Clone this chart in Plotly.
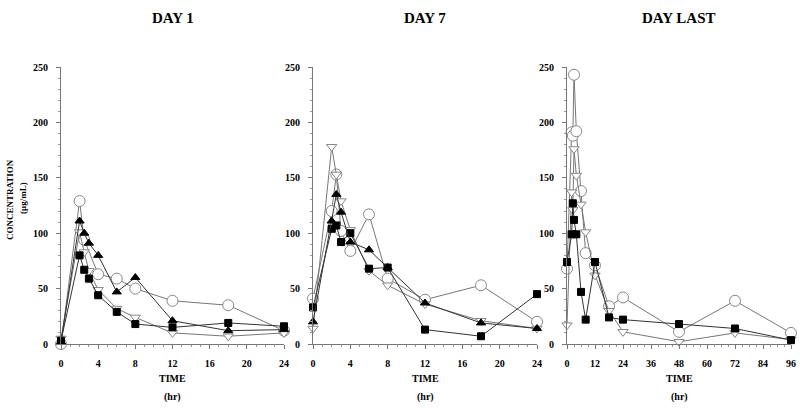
import plotly.graph_objects as go

# ---- data ----
t_day = [0, 2, 2.5, 3, 4, 6, 8, 12, 18, 24]
t_last = [0, 2, 2.5, 3, 4, 6, 8, 12, 18, 24, 48, 72, 96]

d1_circle = [0, 129, 94, None, 63, 59, 50, 39, 35, 12]
d1_tri = [2, 111, 100, 91, 80, 47, 60, 21, 12, 13]
d1_square = [3, 80, 67, 59, 44, 29, 18, 15, 19, 16]
d1_itri = [5, 101, 83, 66, 49, 32, 24, 10, 7, 10]

d7_circle = [41, 120, 153, 102, 84, 117, 59, 40, 53, 20]
d7_tri = [20, 111, 135, 119, 92, 85, 69, 37, 19, 14]
d7_square = [33, 104, 107, 92, 100, 68, 69, 13, 7, 45]
d7_itri = [14, 178, 153, 129, 103, 66, 53, 36, 21, 14]

dl_circle = [68, 191, 188, 243, 192, 138, 82, 71, 34, 42, 11, 39, 10]
dl_square = [74, 99, 127, 112, 99, 47, 22, 74, 24, 22, 18, 14, 3.5]
dl_itri = [17, 137, 121, 176, 152, 126, 101, 62, 30, 11, 2, 10, 4]

panel_titles = ["DAY 1", "DAY 7", "DAY LAST"]
x_ticks_day = [0, 4, 8, 12, 16, 20, 24]
x_ticks_last = [0, 12, 24, 36, 48, 60, 72, 84, 96]
y_ticks = [0, 50, 100, 150, 200, 250]

FONT = "Liberation Serif"
W, H = 800, 412


def px_x(p):
    return p / W


def px_y(p):
    return 1 - p / H


x_dom = [(px_x(61), px_x(284)), (px_x(313), px_x(537)), (px_x(567), px_x(791))]
y_dom = (px_y(344), px_y(67))

fig = go.Figure()

open_line = "#777777"
dark_line = "#333333"


def add(xs, ys, sym, panel, filled, size):
    ax = "" if panel == 1 else str(panel)
    fig.add_trace(go.Scatter(
        x=xs, y=ys, mode="lines+markers", connectgaps=True,
        xaxis="x" + ax, yaxis="y" + ax, cliponaxis=False, showlegend=False,
        line=dict(color=dark_line if filled else open_line, width=1),
        marker=dict(symbol=sym, size=size,
                    color="black" if filled else "white",
                    line=dict(color="black" if filled else "#888888", width=1)),
    ))


add(t_day, d1_circle, "circle", 1, False, 11)
add(t_day, d1_itri, "triangle-down", 1, False, 9)
add(t_day, d1_square, "square", 1, True, 7)
add(t_day, d1_tri, "triangle-up", 1, True, 8)

add(t_day, d7_circle, "circle", 2, False, 11)
add(t_day, d7_itri, "triangle-down", 2, False, 9)
add(t_day, d7_square, "square", 2, True, 7)
add(t_day, d7_tri, "triangle-up", 2, True, 8)

add(t_last, dl_circle, "circle", 3, False, 11)
add(t_last, dl_itri, "triangle-down", 3, False, 9)
add(t_last, dl_square, "square", 3, True, 7)

tickfont = dict(family=FONT, size=10, color="black", weight="bold")
layout = dict(
    width=W, height=H, margin=dict(l=0, r=0, t=0, b=0, autoexpand=False),
    plot_bgcolor="white", paper_bgcolor="white",
    font=dict(family=FONT, color="black"),
)
for i in range(3):
    ax = "" if i == 0 else str(i + 1)
    last = i == 2
    layout["xaxis" + ax] = dict(
        domain=list(x_dom[i]), anchor="y" + ax, automargin=False,
        range=[0, 96] if last else [0, 24],
        tickvals=x_ticks_last if last else x_ticks_day,
        ticks="outside", ticklen=4, tickcolor="#777", tickwidth=1,
        minor=dict(dtick=3 if last else 1, ticks="outside", ticklen=2, tickcolor="#999"),
        showline=True, linecolor="#777", linewidth=1, showgrid=False, zeroline=False,
        tickfont=tickfont, ticklabelstandoff=6, ticklabeloverflow="allow",
    )
    layout["yaxis" + ax] = dict(
        domain=list(y_dom), anchor="x" + ax, range=[0, 250], automargin=False,
        tickvals=y_ticks, ticks="outside", ticklen=4, tickcolor="#777", tickwidth=1,
        minor=dict(dtick=10, ticks="outside", ticklen=2, tickcolor="#999"),
        showline=True, linecolor="#777", linewidth=1, showgrid=False, zeroline=False,
        tickfont=tickfont, ticklabelstandoff=6,
    )
fig.update_layout(**layout)


def txt(text, xp, yp, size, angle=0):
    return dict(text=text, x=px_x(xp), y=px_y(yp), xref="paper", yref="paper",
                xanchor="center", yanchor="middle", textangle=angle,
                showarrow=False, font=dict(family=FONT, size=size, color="black"))


ann = []
centers = [(61 + 284) / 2, (313 + 537) / 2, (567 + 791) / 2]
for c, t in zip(centers, panel_titles):
    ann.append(txt("<b>" + t + "</b>", c, 18, 15))
    ann.append(txt("<b>TIME</b>", c, 378, 10))
    ann.append(txt("<b>(hr)</b>", c, 397, 10))
ann.append(txt("<b>CONCENTRATION</b>", 10, 200, 9, -90))
ann.append(txt("<b>(µg/mL)</b>", 23, 198, 9, -90))
fig.update_layout(annotations=ann)

fig.write_html(
    "out.html",
    config={"displayModeBar": False},
    post_script="document.body.style.margin='0';document.body.style.overflow='hidden';",
)
